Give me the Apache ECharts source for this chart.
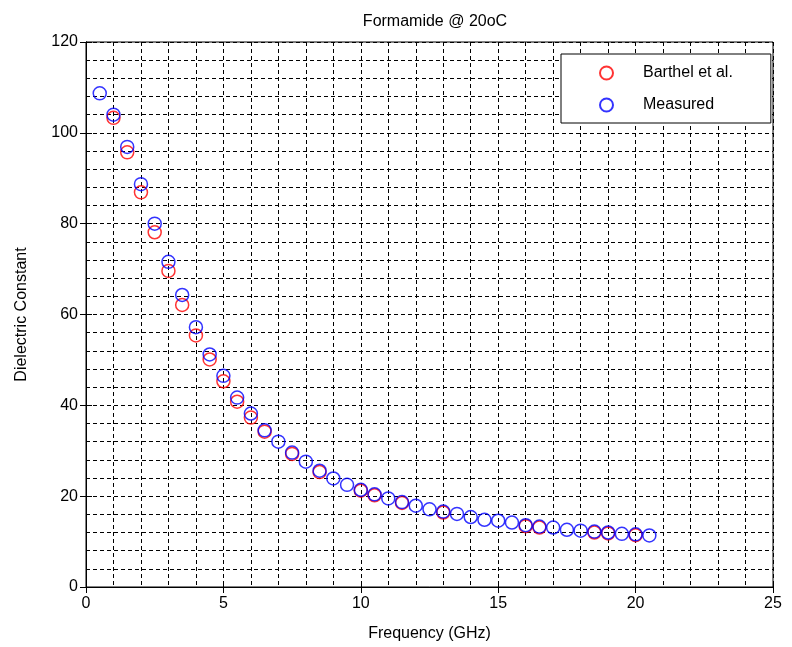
<!DOCTYPE html>
<html>
<head>
<meta charset="utf-8">
<script src="https://cdn.jsdelivr.net/npm/echarts@6/dist/echarts.min.js"></script>
<style>
  html, body { margin: 0; padding: 0; background: #fff; }
  #chart { width: 792px; height: 647px; }
</style>
</head>
<body>
<div id="chart"></div>
<script>
// reference values (Barthel et al.)
var barthelFreq = [1.0, 1.5, 2.0, 2.5, 3.0, 3.5, 4.0, 4.5, 5.0, 5.5, 6.0, 6.5, 7.5, 8.5,
  10.0, 10.5, 11.5, 13.0, 16.0, 16.5, 18.5, 19.0, 20.0];
var barthelEps = [103.3, 95.7, 86.9, 78.1, 69.6, 62.1, 55.4, 50.1, 45.3, 40.8, 37.3, 34.2, 29.3, 25.3,
  21.2, 20.2, 18.5, 16.4, 13.4, 13.1, 12.0, 11.8, 11.4];

// measured
var measuredFreq = [0.5, 1.0, 1.5, 2.0, 2.5, 3.0, 3.5, 4.0, 4.5, 5.0, 5.5, 6.0, 6.5, 7.0, 7.5,
  8.0, 8.5, 9.0, 9.5, 10.0, 10.5, 11.0, 11.5, 12.0, 12.5, 13.0, 13.5, 14.0, 14.5, 15.0,
  15.5, 16.0, 16.5, 17.0, 17.5, 18.0, 18.5, 19.0, 19.5, 20.0, 20.5];
var measuredEps = [108.7, 104.0, 96.9, 88.7, 80.0, 71.6, 64.3, 57.2, 51.2, 46.5, 41.7, 38.2, 34.5, 32.0, 29.6,
  27.6, 25.6, 23.9, 22.5, 21.4, 20.4, 19.5, 18.7, 17.9, 17.1, 16.6, 16.1, 15.4, 14.8, 14.6,
  14.2, 13.6, 13.3, 13.1, 12.6, 12.4, 12.2, 12.0, 11.7, 11.6, 11.35];

var seriesNames = ['Barthel et al.', 'Measured'];

function pairs(xs, ys) {
  var out = [];
  for (var i = 0; i < xs.length; i++) out.push([xs[i], ys[i]]);
  return out;
}

var font = 'Liberation Sans, Arial, sans-serif';
var dash = { color: '#000', width: 1, type: [4, 3] };

var chart = echarts.init(document.getElementById('chart'));

var option = {
  backgroundColor: '#fff',
  animation: false,
  title: {
    text: 'Formamide @ 20oC',
    left: 430,
    textAlign: 'center',
    top: 9,
    textStyle: { fontFamily: font, fontSize: 16, fontWeight: 'normal', color: '#000' }
  },
  legend: {
    orient: 'vertical',
    left: 561,
    top: 54,
    data: seriesNames,
    icon: 'circle',
    itemWidth: 13,
    itemHeight: 13,
    itemGap: 16,
    padding: [11, 38, 10, 38],
    backgroundColor: '#fff',
    borderColor: '#000',
    borderWidth: 1,
    borderRadius: 0,
    textStyle: { fontFamily: font, fontSize: 16, color: '#000', padding: [0, 0, 0, 25] }
  },
  grid: {
    left: 86,
    right: 19,
    top: 42,
    bottom: 58,
    show: true,
    borderColor: '#000',
    borderWidth: 1,
    backgroundColor: '#fff'
  },
  xAxis: [
    {
      type: 'value',
      min: 0,
      max: 25,
      interval: 5,
      name: 'Frequency (GHz)',
      nameLocation: 'middle',
      nameGap: 39,
      nameTextStyle: { fontFamily: font, fontSize: 16, color: '#000' },
      axisLine: { lineStyle: { color: '#000' } },
      axisTick: { inside: true, length: 6, lineStyle: { color: '#000' } },
      axisLabel: { fontFamily: font, fontSize: 16, color: '#000', margin: 9 },
      splitLine: { show: true, lineStyle: dash },
      minorTick: { show: false, splitNumber: 5 },
      minorSplitLine: { show: true, lineStyle: dash }
    },
    {
      type: 'value',
      position: 'top',
      min: 0,
      max: 25,
      interval: 5,
      axisLine: { lineStyle: { color: '#000' } },
      axisTick: { inside: true, length: 6, lineStyle: { color: '#000' } },
      axisLabel: { show: false },
      splitLine: { show: false }
    }
  ],
  yAxis: [
    {
      type: 'value',
      min: 0,
      max: 120,
      interval: 20,
      name: 'Dielectric Constant',
      nameLocation: 'middle',
      nameGap: 56,
      nameTextStyle: { fontFamily: font, fontSize: 16, color: '#000' },
      axisLine: { show: true, lineStyle: { color: '#000' } },
      axisTick: { show: true, inside: true, length: 6, lineStyle: { color: '#000' } },
      axisLabel: { fontFamily: font, fontSize: 16, color: '#000', margin: 8 },
      splitLine: { show: true, lineStyle: dash },
      minorTick: { show: false, splitNumber: 5 },
      minorSplitLine: { show: true, lineStyle: dash }
    },
    {
      type: 'value',
      position: 'right',
      min: 0,
      max: 120,
      interval: 20,
      axisLine: { show: true, lineStyle: { color: '#000' } },
      axisTick: { show: true, inside: true, length: 6, lineStyle: { color: '#000' } },
      axisLabel: { show: false },
      splitLine: { show: false }
    }
  ],
  series: [
    {
      name: seriesNames[0],
      type: 'scatter',
      symbol: 'circle',
      symbolSize: 13,
      itemStyle: { color: 'rgba(0,0,0,0)', borderColor: '#ff0000', borderWidth: 1.5 },
      data: pairs(barthelFreq, barthelEps)
    },
    {
      name: seriesNames[1],
      type: 'scatter',
      symbol: 'circle',
      symbolSize: 13,
      itemStyle: { color: 'rgba(0,0,0,0)', borderColor: '#0000ff', borderWidth: 1.5 },
      data: pairs(measuredFreq, measuredEps)
    }
  ]
};

chart.setOption(option);
</script>
</body>
</html>
